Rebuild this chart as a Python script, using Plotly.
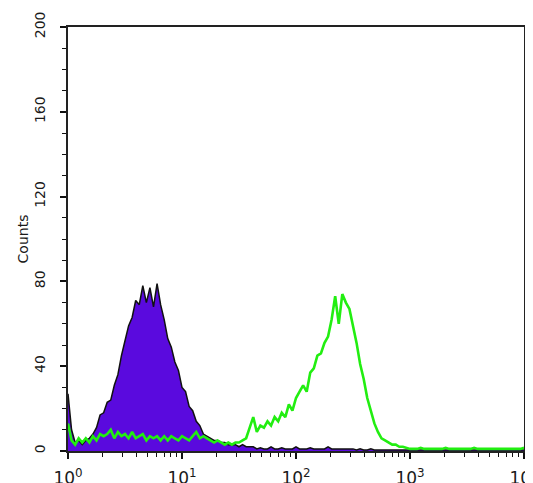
import plotly.graph_objects as go

# channel grid: 4 decades, 32 channels per decade
channels = [10 ** (i / 32) for i in range(129)]

purple_counts = [
    27, 10, 4, 5, 3, 5, 6, 8, 11, 17,
    18, 23, 24, 31, 36, 45, 52, 59, 63, 71,
    69, 78, 70, 77, 68, 79, 69, 62, 53, 49,
    42, 38, 30, 28, 21, 19, 14, 12, 8, 7,
    6, 5, 5, 4, 4, 3, 3, 3, 2, 3,
    2, 2, 2, 1, 1.5, 1, 1, 2, 1, 1,
    1.5, 1, 1, 1, 2, 1, 1, 1, 1.5, 1,
    1, 1, 1, 2, 1, 1, 1, 1, 1, 1,
    1, 0.5, 1, 0.5, 0.5, 1, 0.5, 0.5, 0.5, 0.5,
    0.5, 0.5, 0.5, 0.5, 0.5, 0.5, 0.5, 0.5, 0.5, 0.5,
    0.5, 0.5, 0.5, 0.5, 0.5, 0.5, 0.5, 0.5, 0.5, 0.5,
    0.5, 0.5, 0.5, 0.5, 0.5, 0.5, 0.5, 0.5, 0.5, 0.5,
    0.5, 0.5, 0.5, 0.5, 0.5, 0.5, 0.5, 0.5, 0.5,
]

green_counts = [
    13, 5, 3, 6, 4, 6, 4, 7, 5, 8,
    7, 8, 10, 6, 9, 7, 8, 6, 9, 6,
    7, 8, 5, 7, 6, 7, 5, 7, 5, 7,
    6, 5, 7, 6, 5, 7, 9, 6, 7, 6,
    5, 4, 5, 4, 3, 4, 3, 4, 4, 5,
    6, 11, 16, 9, 12, 11, 14, 12, 16, 14,
    18, 16, 22, 19, 25, 28, 31, 28, 37, 39,
    45, 46, 51, 54, 62, 73, 60, 74, 70, 67,
    59, 51, 41, 34, 25, 19, 13, 9, 6, 5,
    4, 3, 3, 2, 2, 1.5, 1, 1, 1, 1.5,
    1, 1, 1, 1, 1, 1, 1.5, 1, 1, 1,
    1, 1, 1, 1, 1.5, 1, 1, 1, 1, 1,
    1, 1, 1, 1, 1, 1, 1, 1, 1.5,
]

x_tickvals = [1, 10, 100, 1000, 10000]
x_ticktext = ["10<sup>0</sup>", "10<sup>1</sup>", "10<sup>2</sup>",
              "10<sup>3</sup>", "10<sup>4</sup>"]
y_tickvals = [0, 40, 80, 120, 160, 200]

x_minor = [m * 10 ** d for d in range(4) for m in range(2, 10)]

fig = go.Figure()
fig.add_trace(go.Scatter(
    x=channels, y=purple_counts, mode="lines",
    line=dict(color="#111111", width=1.5),
    fill="tozeroy", fillcolor="#5a0ade", showlegend=False,
))
fig.add_trace(go.Scatter(
    x=channels, y=green_counts, mode="lines",
    line=dict(color="#22ee11", width=2.6),
    showlegend=False,
))

fig.update_layout(
    width=525, height=475,
    margin=dict(l=60, r=9, t=19, b=32),
    paper_bgcolor="white", plot_bgcolor="white",
    font=dict(family="DejaVu Sans, sans-serif", color="#1a1a1a"),
)
fig.update_xaxes(
    type="log", range=[0, 4], automargin=False,
    tickmode="array", tickvals=x_tickvals, ticktext=x_ticktext,
    ticklabeloverflow="allow", ticklabelstandoff=5,
    ticks="outside", ticklen=6, tickwidth=1.5, tickcolor="#111111",
    minor=dict(tickmode="array", tickvals=x_minor, ticks="outside",
               ticklen=4, tickwidth=1.2, tickcolor="#111111"),
    showline=True, linecolor="#222222", linewidth=1.5, mirror=True,
    showgrid=False, zeroline=False,
    tickfont=dict(size=17),
)
fig.update_yaxes(
    range=[0, 200], automargin=False,
    tickmode="array", tickvals=y_tickvals,
    tickangle=-90, ticklabelstandoff=10,
    ticks="outside", ticklen=6, tickwidth=1.5, tickcolor="#111111",
    minor=dict(dtick=10, ticks="outside", ticklen=4, tickwidth=1.2,
               tickcolor="#111111"),
    showline=True, linecolor="#222222", linewidth=1.5, mirror=True,
    showgrid=False, zeroline=False,
    tickfont=dict(size=14),
    title=dict(text="Counts", font=dict(size=14), standoff=0),
)

fig.write_html("out.html")
